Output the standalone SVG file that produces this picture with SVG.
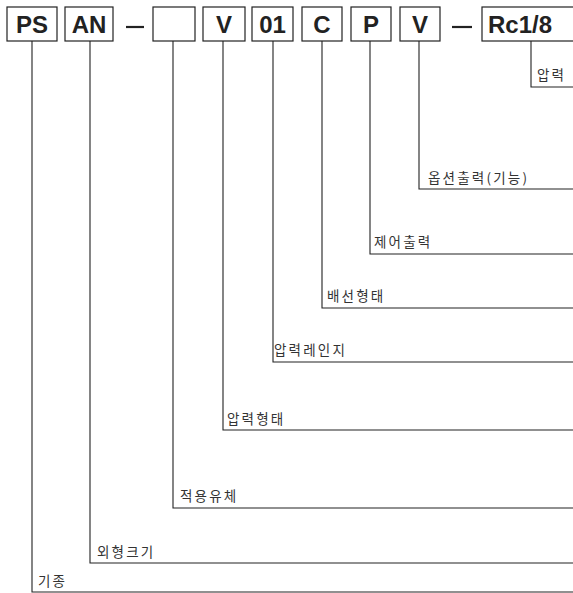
<svg xmlns="http://www.w3.org/2000/svg" width="573" height="593" viewBox="0 0 573 593">
<style>
.box{fill:#fff;stroke:#222;stroke-width:1.2}
.code{font-family:"Liberation Sans",Arial,sans-serif;font-weight:bold;font-size:24px;fill:#222;text-anchor:middle}
.lbl{font-family:"Noto Sans CJK KR","Noto Sans",sans-serif;font-size:13.5px;fill:#333;letter-spacing:2.2px}
.ln{fill:none;stroke:#222;stroke-width:1.1}
.dash{stroke:#222;stroke-width:2.2}
</style>
<rect width="573" height="593" fill="#fff"/>
<g id="node-PS"><rect class="box" x="7" y="7" width="50" height="34"/><text class="code" x="32" y="33">PS</text></g>
<g id="node-AN"><rect class="box" x="65" y="7" width="48" height="34"/><text class="code" x="89" y="33">AN</text></g>
<g id="dash1"><line class="dash" x1="126" y1="27" x2="144" y2="27"/></g>
<g id="node-blank"><rect class="box" x="153" y="7" width="42" height="34"/></g>
<g id="node-V1"><rect class="box" x="203" y="7" width="42" height="34"/><text class="code" x="224" y="33">V</text></g>
<g id="node-01"><rect class="box" x="252" y="7" width="41" height="34"/><text class="code" x="272.5" y="33">01</text></g>
<g id="node-C"><rect class="box" x="302" y="7" width="40" height="34"/><text class="code" x="322" y="33">C</text></g>
<g id="node-P"><rect class="box" x="351" y="7" width="40" height="34"/><text class="code" x="371" y="33">P</text></g>
<g id="node-V2"><rect class="box" x="400" y="7" width="40" height="34"/><text class="code" x="420" y="33">V</text></g>
<g id="dash2"><line class="dash" x1="452" y1="27" x2="472" y2="27"/></g>
<g id="node-Rc"><rect class="box" x="482" y="7" width="100" height="34"/><text class="code" x="488" y="33" style="text-anchor:start">Rc1/8</text></g>
<g id="connectors">
<polyline class="ln" points="531,41 531,87 573,87"/>
<polyline class="ln" points="419,41 419,189 573,189"/>
<polyline class="ln" points="370,41 370,254 573,254"/>
<polyline class="ln" points="322,41 322,308 573,308"/>
<polyline class="ln" points="273,41 273,362 573,362"/>
<polyline class="ln" points="223,41 223,430 573,430"/>
<polyline class="ln" points="173,41 173,508 573,508"/>
<polyline class="ln" points="90,41 90,563 573,563"/>
<polyline class="ln" points="32,41 32,592 573,592"/>
</g>
<g id="labels">
<text class="lbl" x="537" y="80">압력</text>
<text class="lbl" x="428" y="183">옵션출력(기능)</text>
<text class="lbl" x="374" y="247">제어출력</text>
<text class="lbl" x="327" y="301">배선형태</text>
<text class="lbl" x="274" y="355">압력레인지</text>
<text class="lbl" x="227" y="424">압력형태</text>
<text class="lbl" x="180" y="501">적용유체</text>
<text class="lbl" x="97" y="557">외형크기</text>
<text class="lbl" x="38" y="586">기종</text>
</g>
</svg>
